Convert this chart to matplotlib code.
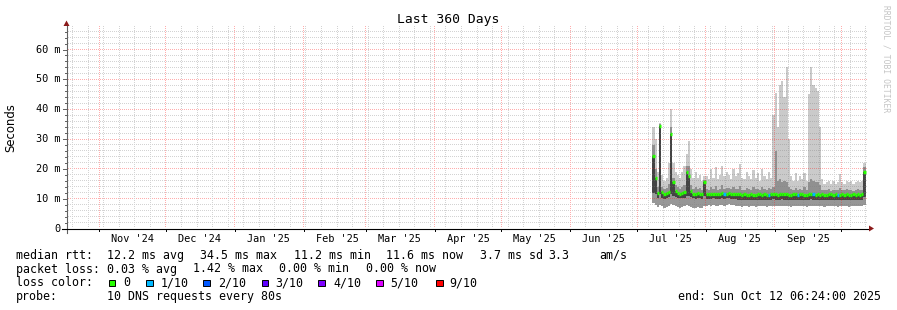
import matplotlib
matplotlib.use("Agg")
import matplotlib.pyplot as plt
import matplotlib.dates as mdates
import matplotlib.transforms as mtransforms
from matplotlib.lines import Line2D
from matplotlib.patches import Rectangle, Polygon
from datetime import datetime, timedelta
import numpy as np

W, H = 897, 310
MONO = "DejaVu Sans Mono"

t_begin = datetime(2024, 10, 17, 6, 24)
t_end = datetime(2025, 10, 12, 6, 24)
data_start = datetime(2025, 7, 7, 21, 0)   # one value per day from here

# smoke: min, lower quartile, median, upper quartile, max  (ms)
rtt_min = [8.5, 8.0, 7.2, 8.0, 7.4, 7.0, 7.3, 7.6, 8.2, 7.8,
           7.4, 7.1, 6.9, 7.2, 7.4, 7.8, 7.6, 7.3, 7.0, 6.9,
           7.2, 7.0, 6.9, 7.5, 7.6, 7.8, 7.5, 7.9, 7.7, 7.6,
           7.8, 8.0, 7.7, 7.9, 8.1, 7.8, 7.9, 7.7, 7.5, 7.4,
           7.3, 7.5, 7.4, 7.3, 7.5, 7.4, 7.3, 7.5, 7.6, 7.4,
           7.5, 7.3, 7.4, 7.5, 7.6, 7.5, 7.4, 7.5, 7.6, 7.5,
           7.5, 7.4, 7.3, 7.5, 7.6, 7.4, 7.5, 7.6, 7.4, 7.3,
           7.5, 7.6, 7.5, 7.4, 7.5, 7.4, 7.5, 7.3, 7.4, 7.5,
           7.5, 7.4, 7.5, 7.3, 7.4, 7.5, 7.4, 7.5, 7.3, 7.4,
           7.5, 7.4, 7.5, 7.4, 7.5, 8.0]
rtt_q1 = [12.0, 11.5, 10.2, 11.5, 10.3, 10.0, 10.2, 10.5, 11.5, 11.0,
          10.5, 10.3, 10.1, 10.2, 10.3, 11.0, 11.0, 10.5, 10.1, 10.0,
          10.2, 10.1, 10.0, 10.8, 9.9, 10.0, 9.9, 10.1, 10.0, 9.9,
          10.0, 10.2, 10.0, 10.1, 10.1, 10.0, 10.0, 9.9, 9.7, 9.7,
          9.6, 9.7, 9.6, 9.6, 9.7, 9.6, 9.6, 9.7, 9.7, 9.6,
          9.7, 9.6, 9.6, 9.7, 9.8, 9.7, 9.6, 9.7, 9.8, 9.7,
          9.7, 9.6, 9.6, 9.7, 9.7, 9.6, 9.7, 9.7, 9.6, 9.6,
          9.7, 9.8, 9.7, 9.6, 9.7, 9.6, 9.7, 9.6, 9.6, 9.7,
          9.7, 9.6, 9.7, 9.6, 9.6, 9.7, 9.6, 9.7, 9.6, 9.6,
          9.7, 9.6, 9.7, 9.6, 9.7, 10.5]
rtt_med = [24.3, 17.0, 11.8, 34.5, 12.2, 11.6, 11.8, 12.4, 31.7, 15.5,
           12.7, 12.0, 11.7, 11.9, 12.1, 18.9, 17.5, 12.7, 11.7, 11.6,
           11.8, 11.7, 11.6, 15.5, 11.5, 11.6, 11.5, 11.7, 11.6, 11.5,
           11.6, 11.8, 11.6, 11.7, 11.8, 11.7, 11.6, 11.5, 11.4, 11.4,
           11.3, 11.4, 11.3, 11.3, 11.4, 11.3, 11.3, 11.4, 11.4, 11.3,
           11.4, 11.3, 11.3, 11.4, 11.5, 11.4, 11.3, 11.4, 11.5, 11.4,
           11.4, 11.3, 11.3, 11.4, 11.4, 11.3, 11.4, 11.4, 11.3, 11.3,
           11.4, 11.5, 11.4, 11.3, 11.4, 11.3, 11.4, 11.3, 11.3, 11.4,
           11.4, 11.3, 11.4, 11.3, 11.3, 11.4, 11.3, 11.4, 11.3, 11.3,
           11.4, 11.3, 11.4, 11.3, 11.4, 18.9]
rtt_q3 = [28, 20, 14, 35, 14, 13.2, 13.5, 15, 34, 17,
          14.5, 13.8, 13.3, 13.8, 14.5, 21, 21, 14.5, 13.3, 13.8,
          13.2, 13.5, 13, 16.3, 13.2, 13, 13.8, 13.3, 14.2, 13,
          13.4, 14.5, 13.2, 13.6, 13.5, 13.1, 14, 13.2, 13.4, 14.3,
          13, 12.9, 13.6, 13.2, 12.9, 13.8, 13.1, 13.4, 12.8, 14,
          13.2, 12.9, 13.7, 13.1, 14, 26, 16, 16.5, 15.5, 16,
          15.5, 14, 13.2, 12.9, 13.5, 12.9, 13.3, 13, 13.8, 12.9,
          15.5, 16.5, 16, 15.5, 15.5, 14.5, 13, 12.8, 12.9, 13.1,
          12.7, 13, 12.9, 13, 13.6, 12.9, 12.8, 13.1, 12.9, 13,
          12.7, 12.9, 13.1, 12.9, 13, 20.5]
rtt_max = [34, 30, 19, 35.5, 18, 16, 17, 22, 40, 22,
           19, 18, 17, 19, 21, 25, 29.5, 20, 17, 19,
           17, 18, 16, 17.5, 17.5, 16.5, 19.8, 17, 20.5, 16.5,
           18, 21, 17.5, 19, 18, 16.5, 20, 17.5, 18.5, 21.5,
           17, 16.5, 19, 17.5, 16.5, 19.5, 17, 18.5, 16, 20,
           17.5, 16.5, 19, 17, 38, 45.5, 34, 48, 49.6, 44,
           54, 30, 17.5, 16, 18.5, 16, 17.5, 16.5, 18.7, 16,
           45, 54, 48, 47, 46, 34, 16.5, 15, 15.5, 16,
           14.8, 16, 15, 15.5, 18.3, 15.5, 15, 16, 15.5, 15.8,
           15, 15.5, 16, 15.5, 16, 21.8]
# lost pings (of 10) per step
loss = [0] * 96
for k in (32, 52, 65, 72, 83):
    loss[k] = 1

loss_labels = ["0", "1/10", "2/10", "3/10", "4/10", "5/10", "9/10"]
loss_hex = ["#26ff00", "#00b8ff", "#0059ff", "#5e00ff", "#7e00ff", "#dd00ff", "#ff0000"]
loss_color = {0: "#26ff00", 1: "#00b8ff", 2: "#0059ff", 3: "#5e00ff",
              4: "#7e00ff", 5: "#dd00ff", 9: "#ff0000"}

y_major = [10, 20, 30, 40, 50, 60]
y_labels = ["10 m", "20 m", "30 m", "40 m", "50 m", "60 m"]

fig = plt.figure(figsize=(W / 100, H / 100), dpi=100)
fig.patch.set_facecolor("white")

def fx(x):
    return x / W

def fy(y):
    return 1 - y / H

L, R, T, B = 66.5, 866.5, 25, 228.5
ypx = 2.983  # pixels per ms
rect = [fx(L), fy(B), (R - L) / W, (B - T) / H]
ax = fig.add_axes(rect, zorder=0)
top_ax = fig.add_axes(rect, zorder=2)   # median line above the grid
for a in (ax, top_ax):
    a.set_xlim(mdates.date2num(t_begin), mdates.date2num(t_end))
    a.set_ylim(0, (B - T) / ypx)
    a.axis("off")
    a.patch.set_alpha(0)

edges = mdates.date2num([data_start + timedelta(days=k) for k in range(len(rtt_med) + 1)])

ax.stairs(rtt_q1, edges, baseline=rtt_min, fill=True, color="#979797", lw=0)
ax.stairs(rtt_med, edges, baseline=rtt_q1, fill=True, color="#444444", lw=0)
ax.stairs(rtt_q3, edges, baseline=rtt_med, fill=True, color="#909090", lw=0)
ax.stairs(rtt_max, edges, baseline=rtt_q3, fill=True, color="#cacaca", lw=0)
top_ax.hlines(rtt_med, edges[:-1], edges[1:], colors=[loss_color[v] for v in loss], lw=2.4)

# grid: dotted 1px lines painted into an overlay image
sundays = []
d = datetime(2024, 10, 20)
while d <= t_end:
    sundays.append(d)
    d += timedelta(days=7)
months = [datetime(2024, m, 1) for m in (11, 12)] + [datetime(2025, m, 1) for m in range(1, 11)]

minor_rgba = (0.5, 0.5, 0.5, 0.34)
major_rgba = (1.0, 0.1, 0.1, 0.36)
grid = np.zeros((H, W, 4))
x0d = ax.transData.transform((mdates.date2num(t_begin), 0))
cols = np.arange(int(L) + 2, int(R) + 1, 2)
rows = np.arange(int(T) + 1, int(B), 2)
for v in range(2, 68, 2):
    yd = ax.transData.transform((x0d[0], v))[1]
    r = H - 1 - int(np.floor(yd))
    grid[r, cols] = major_rgba if v % 10 == 0 else minor_rgba
for dates, rgba in ((sundays, minor_rgba), (months, major_rgba)):
    for d in dates:
        xd = ax.transData.transform((mdates.date2num(d), 0))[0]
        c = int(np.floor(xd))
        grid[rows, c] = rgba
fig.figimage(grid, 0, 0, origin="upper", zorder=1)

# axes lines and arrows
fig.add_artist(Line2D([fx(L), fx(L)], [fy(233), fy(25)], color="#606060", lw=0.8, zorder=3))
fig.add_artist(Line2D([fx(62), fx(869)], [fy(B), fy(B)], color="#000000", lw=0.8, zorder=3))
fig.add_artist(Polygon([[fx(63.5), fy(26)], [fx(69.5), fy(26)], [fx(L), fy(20.5)]],
                       closed=True, color="#8b1a1a", lw=0, zorder=3))
fig.add_artist(Polygon([[fx(869), fy(225.5)], [fx(869), fy(231.5)], [fx(874), fy(B)]],
                       closed=True, color="#8b1a1a", lw=0, zorder=3))

ty = mtransforms.blended_transform_factory(fig.transFigure, ax.transData)
tx = mtransforms.blended_transform_factory(ax.transData, fig.transFigure)

for v in range(2, 68, 2):
    x0 = 63 if v % 10 == 0 else 64.5
    fig.add_artist(Line2D([fx(x0), fx(L)], [v, v], transform=ty, color="#606060", lw=0.7))
for v, lab in zip(y_major, y_labels):
    fig.text(fx(60.5), v, lab, transform=ty, ha="right", va="center",
             family=MONO, size=7.4, color="#000000")
fig.text(fx(60.5), fy(229), "0", ha="right", va="center", family=MONO, size=7.4)

for d in months:
    xv = mdates.date2num(d)
    fig.add_artist(Line2D([xv, xv], [fy(B), fy(231)], transform=tx, color="#000000", lw=0.7))
for d in months[:-1]:
    xv = mdates.date2num(d + timedelta(days=15))
    fig.text(xv, fy(241.5), d.strftime("%b '%y"), transform=tx, ha="center",
             va="baseline", family=MONO, size=7.4)

fig.text(0.5, fy(23), "Last 360 Days", ha="center", va="baseline", family=MONO, size=9.4)
fig.text(fx(11), fy(127.5), "Seconds", rotation=90, ha="center", va="center",
         family="DejaVu Sans", size=8.4)
fig.text(fx(886), fy(59), "RRDTOOL / TOBI OETIKER", rotation=270, ha="center",
         va="center", family=MONO, size=5.8, color="#c4c4c4")

# legend
fs = 8.4
line1 = [(16, "median rtt:"), (107, "12.2 ms avg"), (199.5, "34.5 ms max"),
         (293.5, "11.2 ms min"), (386, "11.6 ms now"), (479.5, "3.7 ms sd"),
         (548.5, "3.3"), (599.5, "am/s")]
line2 = [(16, "packet loss:"), (106.5, "0.03 % avg"), (192.8, "1.42 % max"),
         (278.8, "0.00 % min"), (365.5, "0.00 % now")]
for x, s in line1:
    fig.text(fx(x), fy(259), s, ha="left", va="baseline", family=MONO, size=fs)
for x, s in line2:
    fig.text(fx(x), fy(272.5), s, ha="left", va="baseline", family=MONO, size=fs)

fig.text(fx(16), fy(286.5), "loss color:", ha="left", va="baseline", family=MONO, size=fs)
box_x = [108.7, 146, 203.3, 261.7, 318.3, 376, 436]
text_x = [123, 160.3, 218, 275.7, 333, 390.3, 449.7]
for bx, lx, lab, col in zip(box_x, text_x, loss_labels, loss_hex):
    fig.add_artist(Rectangle((fx(bx), fy(286)), 6.5 / W, 6.5 / H, facecolor=col,
                             edgecolor="#000000", lw=0.7))
    fig.text(fx(lx), fy(286.5), lab, ha="left", va="baseline", family=MONO, size=fs)

fig.text(fx(16), fy(300), "probe:", ha="left", va="baseline", family=MONO, size=fs)
fig.text(fx(107), fy(300), "10 DNS requests every 80s", ha="left", va="baseline",
         family=MONO, size=fs)
fig.text(fx(678), fy(300), "end: Sun Oct 12 06:24:00 2025", ha="left", va="baseline",
         family=MONO, size=fs)

fig.savefig("out.png", dpi=100)
